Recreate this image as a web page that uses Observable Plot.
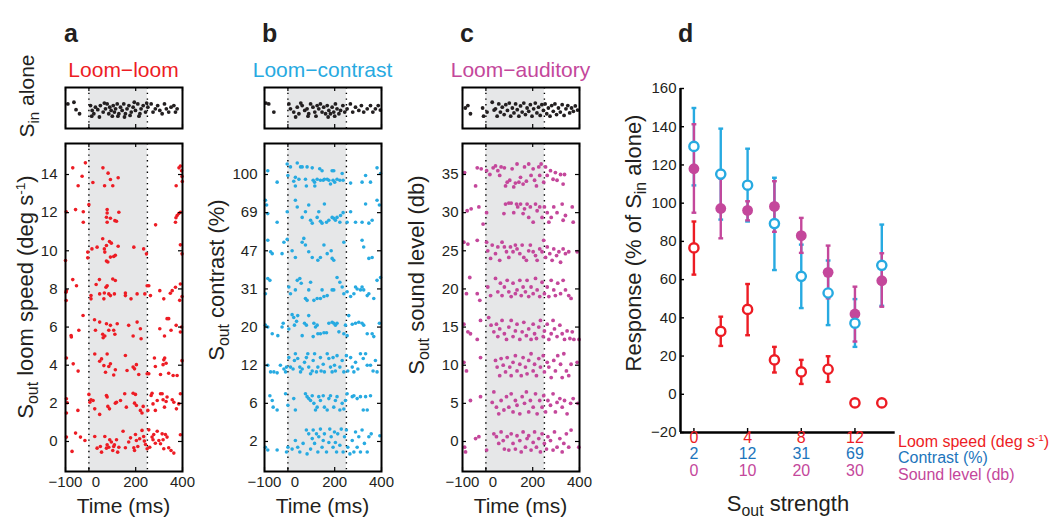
<!DOCTYPE html>
<html><head><meta charset="utf-8">
<script src="https://cdn.jsdelivr.net/npm/d3@7"></script>
<script src="https://cdn.jsdelivr.net/npm/@observablehq/plot@0.6"></script>
<style>
body{margin:0;background:#fff;}
#fig{position:relative;width:1050px;height:529px;overflow:hidden;background:#fff;font-family:"Liberation Sans",Arial,Helvetica,sans-serif;color:#231f20;}
#fig svg{position:absolute;left:0;top:0;}
.lbl{position:absolute;white-space:nowrap;line-height:1;}
.lbl sub{font-size:0.72em;vertical-align:-0.34em;line-height:0;}
.lbl sup{font-size:0.62em;vertical-align:0.6em;line-height:0;}
</style></head>
<body><div id="fig"></div>
<script>
// ---------------- DATA ----------------
const speedLabels = [0, 2, 4, 6, 8, 10, 12, 14];
const contrastLabels = [2, 6, 12, 20, 31, 47, 69, 100];
const soundLabels = [0, 5, 10, 15, 20, 25, 30, 35];
const timeDomain = [-100, 400];
const timeTicks = [-100, 0, 200, 400];
const stimWindow = [0, 250];

// spikes: [time ms, offset within row (in half-row units)]; rows bottom -> top
const topA = [[-90,.6],[-64,.64],[-55,.46],[-40,.36],[7,.56],[12,.3],[14,.44],[21,.36],[28,.52],[38,.46],[45,.28],[49,.56],[61,.4],[66,.62],[71,.48],[78,.6],[85,.36],[89,.52],[95,.44],[100,.3],[104,.56],[109,.4],[114,.48],[121,.6],[124,.3],[128,.36],[135,.52],[142,.44],[149,.6],[152,.28],[156,.36],[163,.48],[171,.56],[176,.32],[181,.4],[189,.52],[194,.64],[199,.44],[209,.6],[214,.3],[218,.36],[223,.48],[232,.56],[242,.4],[247,.62],[252,.52],[266,.6],[274,.4],[284,.48],[294,.56],[303,.44],[313,.36],[323,.6],[331,.48],[341,.4],[351,.52],[363,.56],[370,.4],[377,.48]];
const topB = [[-94,.62],[-82,.6],[-60,.4],[4,.6],[11,.48],[25,.4],[33,.28],[40,.52],[47,.36],[55,.62],[61,.56],[72,.44],[82,.48],[86,.3],[89,.36],[97,.6],[107,.52],[115,.4],[120,.3],[125,.56],[132,.48],[139,.6],[146,.4],[153,.52],[161,.36],[168,.56],[172,.28],[175,.44],[182,.36],[189,.52],[196,.4],[200,.3],[203,.6],[210,.48],[218,.36],[225,.44],[235,.56],[243,.4],[253,.48],[267,.6],[277,.4],[289,.52],[303,.44],[314,.56],[324,.4],[339,.48],[353,.56],[363,.4],[374,.48],[386,.56],[395,.45]];
const topC = [[-88,.5],[-77,.56],[-66,.36],[-14,.5],[-10,.3],[5,.4],[27,.64],[35,.45],[41,.48],[48,.3],[55,.6],[62,.4],[70,.52],[78,.34],[85,.58],[92,.44],[100,.62],[106,.3],[113,.5],[120,.38],[127,.6],[134,.46],[141,.3],[148,.55],[155,.4],[162,.62],[169,.34],[176,.5],[183,.42],[190,.58],[197,.3],[204,.48],[211,.62],[218,.38],[225,.52],[232,.32],[239,.58],[246,.44],[253,.6],[260,.36],[267,.5],[274,.3],[281,.56],[288,.42],[295,.6],[302,.34],[310,.5],[318,.4],[326,.58],[334,.32],[342,.48],[350,.56],[358,.38],[366,.5],[374,.42],[382,.55],[392,.45]];

const loomRows = [
 [[-96,.23],[-72,-.52],[-57,.44],[-36,.23],[-17,.05],[25,.26],[35,-.35],[49,-.26],[54,-.56],[68,.26],[75,-.35],[78,-.17],[85,-.3],[89,.09],[96,-.03],[102,-.47],[106,-.26],[109,-.17],[118,.09],[123,-.56],[128,-.3],[146,.54],[156,-.33],[170,-.03],[178,.19],[192,-.33],[195,-.47],[199,.37],[203,.05],[209,-.26],[217,.14],[227,.58],[234,.26],[237,.02],[242,-.16],[249,-.38],[256,.61],[260,-.3],[270,.23],[274,.09],[277,.37],[284,-.09],[292,.54],[299,.05],[306,-.12],[313,.4],[317,.09],[320,-.38],[327,.37],[334,.23],[341,-.33],[351,-.47],[363,-.61],[391,.35]],
 [[-96,.24],[-93,.03],[-96,-.51],[-47,-.37],[0,.47],[4,.06],[9,.19],[18,.15],[25,-.29],[46,-.58],[75,.41],[78,.33],[81,-.16],[88,-.29],[113,.01],[118,.06],[135,.15],[153,.5],[160,-.2],[189,.53],[199,.47],[195,.01],[203,-.11],[220,-.37],[227,-.51],[232,-.16],[252,-.37],[266,.41],[270,.53],[274,-.03],[284,-.37],[292,.15],[306,.5],[313,.5],[317,.19],[323,-.2],[330,.1],[334,.33],[356,.19],[363,.06],[374,-.29],[384,-.03],[391,.5]],
 [[-96,.38],[-67,.07],[-46,-.31],[25,.59],[46,.21],[54,.33],[64,-.02],[71,-.37],[78,.59],[85,-.07],[92,.07],[106,-.51],[113,-.24],[156,.51],[163,-.28],[189,-.1],[195,-.19],[203,.03],[213,-.49],[249,-.45],[256,-.45],[280,.38],[284,-.07],[306,-.49],[317,.03],[320,.28],[324,.38],[330,.1],[341,-.42],[360,-.54],[377,-.54],[398,.24]],
 [[-76,-.44],[-75,-.52],[-43,-.17],[-25,.61],[24,.38],[28,-.17],[46,.26],[59,-.38],[61,-.56],[68,-.47],[75,.17],[85,-.17],[92,.09],[106,-.17],[111,-.38],[121,.17],[170,.09],[189,-.47],[206,.26],[220,-.09],[223,-.61],[303,-.09],[323,-.47],[334,.44],[341,.44],[351,-.17],[373,.09],[391,-.26],[396,0]],
 [[-98,-.17],[-96,-.09],[-97,-.61],[-69,.49],[-53,.17],[9,-.35],[9,-.52],[31,.23],[45,.49],[46,-.26],[64,-.52],[66,-.21],[73,.09],[78,.17],[85,-.26],[92,-.35],[102,.52],[113,.44],[109,-.26],[156,-.21],[156,-.35],[180,-.52],[206,-.26],[239,-.26],[249,.17],[256,.17],[263,-.35],[303,-.09],[320,-.52],[348,-.23],[356,-.09],[370,.09],[391,.26],[388,-.6],[398,-.4]],
 [[-100,-.51],[-5,-.37],[-5,-.07],[13,.1],[35,.19],[59,.63],[66,.1],[68,-.07],[75,.28],[75,-.54],[81,-.59],[88,.49],[92,-.33],[96,.4],[106,-.3],[113,-.24],[125,.24],[192,.19],[234,.1],[246,-.16],[391,.31],[398,-.16]],
 [[-97,.05],[-57,.16],[-24,.05],[-24,-.5],[0,.42],[78,.16],[78,-.02],[75,-.24],[78,-.5],[92,-.29],[111,-.42],[118,-.45],[128,.02],[285,-.64],[370,-.5],[372,-.27],[377,-.15],[384,-.05],[391,.02]],
 [[-69,.35],[-46,-.59],[-29,-.09],[-15,.61],[17,-.42],[60,.35],[67,-.59],[82,.07],[92,-.26],[102,-.59],[125,-.17],[373,-.59],[385,.35],[391,.45],[396,.2],[398,-.1],[399,-.37]]
];

const contrastRows = [
 [[-96,-.3],[-86,-.45],[-46,-.45],[-6,-.55],[0,-.3],[18,-.4],[32,.05],[42,-.3],[51,-.55],[65,-.1],[79,.6],[82,-.65],[89,.4],[97,-.4],[104,.15],[108,.6],[114,-.1],[122,.4],[128,-.55],[132,.25],[139,.65],[146,-.3],[151,.05],[156,.4],[165,-.55],[175,-.05],[179,.65],[185,.25],[193,-.3],[199,.5],[203,-.05],[208,-.55],[213,.4],[222,-.2],[228,.65],[236,-.55],[242,.25],[250,.6],[256,-.3],[265,-.65],[275,.05],[282,-.55],[289,.5],[296,-.3],[303,.25],[310,-.55],[317,.6],[327,-.1],[339,-.55],[346,.25],[356,.4],[393,.3]],
 [[-77,.4],[-67,.15],[-63,-.2],[-46,-.35],[-10,.5],[0,-.1],[25,.25],[32,-.35],[75,.5],[82,.35],[89,.25],[97,.15],[104,.4],[111,0],[118,-.35],[125,-.2],[132,.35],[139,.15],[151,.4],[156,-.2],[168,-.35],[175,.25],[182,.4],[196,-.2],[203,.15],[210,.35],[222,-.35],[232,0],[239,-.3],[246,.15],[253,.5],[275,.35],[282,.4],[296,.25],[310,.35],[322,-.35],[332,.35],[339,-.35],[353,.4]],
 [[-86,0],[-74,-.35],[-60,-.35],[-46,-.4],[-32,0],[-17,-.2],[-10,-.35],[-6,-.1],[4,.4],[11,-.1],[22,-.2],[28,.25],[32,.6],[42,.35],[51,-.1],[54,-.35],[61,-.2],[71,.15],[79,.4],[85,.6],[89,-.1],[97,-.45],[104,-.3],[108,.25],[114,.6],[122,-.35],[128,-.1],[139,.4],[142,-.3],[151,.05],[156,-.35],[168,.6],[175,.35],[182,-.1],[189,-.35],[193,.4],[199,0],[203,-.3],[210,.5],[222,-.1],[232,.25],[239,-.35],[250,.5],[256,-.3],[268,.4],[275,-.1],[282,-.35],[289,.15],[299,-.2],[310,.6],[322,.35],[332,.6],[339,0],[353,0],[364,-.3],[374,.25],[381,-.35]],
 [[-96,.1],[-86,0],[-67,-.35],[-43,-.45],[-25,0],[-20,.2],[4,-.1],[18,.65],[25,.5],[28,.1],[37,.3],[42,.6],[61,-.45],[71,.2],[79,.1],[89,.6],[108,-.5],[111,.2],[118,0],[125,.1],[128,-.35],[139,-.35],[154,-.3],[165,-.3],[175,.2],[189,.25],[196,.2],[203,.1],[210,.2],[218,-.25],[239,-.35],[246,.1],[253,-.45],[260,.6],[275,.15],[289,.2],[303,.25],[317,.2],[324,.1],[339,-.35],[360,-.35],[367,-.5],[391,.2]],
 [[-96,-.25],[-86,.55],[-77,.45],[4,.1],[11,-.25],[32,-.05],[40,.45],[51,.55],[57,.3],[75,-.5],[82,-.6],[89,-.05],[97,.35],[111,-.6],[125,-.5],[139,-.5],[146,-.05],[154,-.4],[168,-.35],[189,-.05],[196,-.05],[210,.6],[222,.35],[232,.1],[239,-.25],[253,-.15],[268,-.4],[282,-.25],[289,.1],[296,0],[310,-.05],[317,.1],[324,-.05],[339,-.35],[346,-.25],[367,-.5],[381,.45],[396,.6]],
 [[-86,.55],[-74,-.05],[-67,-.15],[-25,-.15],[-17,.45],[-3,.6],[18,0],[32,-.35],[61,.45],[68,.65],[75,.3],[89,-.05],[104,-.35],[128,-.5],[139,-.35],[154,.3],[168,-.15],[185,0],[189,-.4],[196,-.5],[239,.45],[317,.55],[324,.2],[346,-.4],[360,-.35]],
 [[-96,.65],[-91,.4],[-86,-.05],[-46,-.5],[-3,.05],[32,.65],[40,.3],[61,-.25],[75,.05],[89,.4],[97,-.4],[104,-.55],[125,-.25],[132,.05],[139,-.45],[146,-.55],[156,.45],[165,-.5],[175,-.4],[189,-.25],[196,-.3],[203,-.4],[210,-.25],[222,-.5],[225,-.15],[236,0],[253,-.5],[268,.05],[289,-.5],[317,-.5],[332,.45],[346,-.55],[360,-.4],[381,.65],[391,.4]],
 [[-86,.2],[-46,-.4],[-3,.55],[0,-.05],[11,.4],[25,-.35],[32,-.15],[32,-.6],[40,.6],[47,-.25],[54,.4],[61,.4],[75,-.25],[79,-.6],[82,.4],[104,.35],[108,-.3],[114,-.4],[115,-.6],[125,-.25],[136,.3],[139,-.3],[146,.2],[151,-.3],[156,-.25],[168,-.25],[175,-.3],[182,-.5],[189,.2],[193,-.3],[196,.2],[200,-.4],[210,-.25],[222,-.3],[232,.05],[236,-.3],[268,-.45],[317,-.4],[332,-.05],[353,-.4],[381,.35],[396,.05]]
];

const soundRows = [
 [[-91,-.3],[-87,-.55],[-44,.15],[-30,.25],[3,-.45],[34,.4],[45,.25],[55,-.1],[65,.5],[74,.05],[79,-.4],[91,.25],[98,-.45],[108,.4],[116,-.1],[126,-.4],[133,.3],[145,.05],[151,-.55],[159,.5],[169,-.3],[176,.15],[183,.3],[193,-.45],[202,-.05],[208,.5],[216,-.3],[226,.15],[233,-.55],[240,.4],[250,-.1],[259,-.4],[265,.25],[276,.05],[287,-.45],[293,.5],[304,-.3],[316,.15],[326,-.55],[333,-.1],[344,.4],[354,-.3],[364,.6],[397,-.3]],
 [[-66,.15],[-23,.35],[27,.05],[34,.6],[45,-.2],[55,-.55],[65,.15],[77,-.35],[88,.35],[98,-.2],[108,.5],[116,-.45],[126,.15],[133,-.1],[145,-.55],[155,.35],[165,0],[173,.6],[183,-.45],[190,.15],[202,-.2],[212,.5],[219,-.55],[230,.15],[240,-.2],[247,.4],[255,-.45],[265,.15],[276,-.1],[287,.5],[297,-.45],[304,.05],[316,.25],[326,-.2],[336,.15],[347,-.55],[362,0],[373,.25],[393,0]],
 [[-94,.15],[-83,-.3],[-23,.4],[41,.25],[48,-.1],[59,-.55],[65,.35],[74,0],[84,-.35],[91,.4],[102,-.1],[108,-.55],[116,.15],[126,.5],[133,-.3],[145,.05],[151,-.55],[159,.4],[169,-.1],[176,-.45],[183,.25],[193,.6],[202,-.3],[208,.05],[216,-.55],[226,.35],[233,-.1],[245,.5],[250,-.35],[262,.15],[269,-.1],[279,-.65],[290,.25],[297,-.3],[307,.5],[319,.05],[326,-.65],[333,.6],[344,-.3],[354,-.55],[364,.05],[390,.15]],
 [[-94,.15],[-77,-.25],[-66,-.35],[-37,-.65],[-23,.35],[12,.5],[22,.1],[34,-.25],[45,.15],[51,-.5],[59,-.1],[69,.35],[79,-.35],[88,-.65],[98,0],[108,.35],[116,-.5],[126,-.2],[133,.15],[145,-.65],[155,-.25],[162,.25],[173,-.45],[183,-.1],[193,-.65],[202,.15],[208,-.35],[216,-.6],[226,0],[233,.35],[245,-.5],[250,-.2],[262,.15],[269,-.65],[279,-.35],[287,.35],[293,-.1],[304,-.5],[316,.1],[326,-.35],[336,-.65],[347,-.2],[359,-.6],[369,-.25],[376,-.65],[398,-.65]],
 [[-83,-.25],[-69,.6],[-37,-.25],[-26,-.6],[8,.1],[20,-.35],[41,.55],[51,-.15],[62,.3],[69,-.35],[79,.1],[91,.45],[98,-.15],[108,-.4],[116,.3],[126,-.25],[133,-.05],[145,.45],[151,-.35],[159,.1],[169,-.15],[176,.45],[183,-.4],[193,.1],[202,-.25],[212,.55],[219,-.05],[230,-.4],[240,.35],[250,-.25],[262,.1],[269,-.4],[279,.45],[290,-.05],[297,-.35],[307,.3],[319,-.25],[330,.45],[340,-.05],[354,-.35],[364,-.5]],
 [[-94,.45],[-77,.35],[-37,.55],[3,.45],[8,0],[20,-.4],[27,.3],[41,-.15],[51,.2],[59,-.5],[69,.45],[79,.2],[88,-.05],[98,-.35],[105,.2],[116,-.05],[126,.3],[133,.1],[145,-.15],[155,.3],[162,-.35],[173,-.5],[183,0],[190,.3],[202,-.05],[212,-.25],[219,-.5],[230,.1],[240,-.05],[247,.55],[255,-.35],[262,.2],[273,-.15],[283,-.5],[290,.1],[302,-.25],[312,-.05],[319,-.6],[330,.1],[340,-.15],[354,-.05],[390,-.05]],
 [[-80,.1],[-63,.2],[-30,.3],[-12,-.6],[3,0],[77,-.05],[84,.45],[98,.5],[108,.5],[119,0],[131,.45],[136,.3],[148,.45],[159,-.05],[165,.2],[176,.45],[183,-.25],[190,.3],[202,-.5],[212,.45],[219,.1],[230,.3],[240,-.25],[250,.3],[262,0],[269,-.5],[279,-.25],[290,.3],[304,0],[326,.45],[330,-.4],[340,-.15],[369,.3],[373,-.5]],
 [[-91,.1],[-44,-.6],[-37,.35],[-20,.3],[3,.2],[17,0],[31,.35],[41,.45],[51,.2],[59,-.05],[65,.4],[79,.35],[84,-.6],[91,-.4],[102,-.3],[112,.3],[119,-.65],[126,-.45],[133,.55],[141,-.4],[148,-.15],[159,-.5],[165,.4],[173,-.35],[183,.55],[193,-.05],[202,.3],[208,-.3],[216,-.6],[226,.4],[230,-.05],[236,.55],[247,-.4],[255,.4],[262,-.05],[276,.2],[287,-.25],[297,.1],[304,-.3],[319,0],[330,-.5],[336,0]]
];

// Panel d
const dX = [0, 2, 4, 6, 8, 10, 12, 14];
const loomMean = [76.6, 32.9, 44.4, 18, 11.7, 13.1, -4.5, -4.5];
const loomLo   = [62.6, 25.3, 30.9, 11.4, 5.4, 6.5, null, null];
const loomHi   = [90.4, 40.6, 57.7, 24.8, 18, 19.9, null, null];
const contrastMean = [129.7, 115.2, 109.4, 89.3, 61.7, 53, 37.2, 67.5];
const contrastLo   = [109.3, 91.4, 90.4, 65, 45.1, 36.2, 24.8, 46.3];
const contrastHi   = [149.8, 139, 128.5, 113.3, 78.3, 70, 49.8, 88.8];
const audMean = [118, 97.2, 96.2, 98.3, 83, 63.8, 42, 59.4];
const audLo   = [95, 81.6, 91, 85, 74, 50.2, 27.6, 45.8];
const audHi   = [141.3, 112.8, 101, 111.5, 92.3, 77.8, 56.3, 73.8];
const dXTicks = [0, 4, 8, 12];
const dSpeedTickLabels = ["0", "4", "8", "12"];
const dContrastTickLabels = ["2", "12", "31", "69"];
const dSoundTickLabels = ["0", "10", "20", "30"];
const dYTicks = [-20, 0, 20, 40, 60, 80, 100, 120, 140, 160];
const dXDomain = [-1, 15];
const dYDomain = [-20, 160];

// ---------------- STYLE ----------------
const W = 1050, H = 529;
const FONT = "'Liberation Sans', Arial, Helvetica, sans-serif";
const RED = "#ed1c24", CYAN = "#27aae1", MAG = "#c4479b", BLUE = "#1c75bc", INK = "#231f20", SHADE = "#e6e7e8";
const fig = document.getElementById("fig");
const baseStyle = () => ({background: "transparent", overflow: "visible", fontFamily: FONT, fontSize: "15px", color: INK});
const fmt = d => d < 0 ? "\u2212" + Math.abs(d) : String(d);

function rasterTop(box, spikes) {
  const [L, R] = box, T = 87, B = 128;
  return Plot.plot({
    width: W, height: H, marginLeft: L, marginRight: W - R, marginTop: T, marginBottom: H - B,
    style: baseStyle(),
    x: {domain: timeDomain, axis: null, label: null},
    y: {domain: [0, 1], axis: null, label: null},
    marks: [
      Plot.rect([stimWindow], {x1: d => d[0], x2: d => d[1], fill: SHADE}),
      Plot.ruleX(stimWindow, {stroke: "#000", strokeWidth: 1.4, strokeDasharray: "1.4,4.3"}),
      Plot.dot(spikes, {x: d => d[0], y: d => d[1], r: 1.9, fill: INK}),
      Plot.ruleX(timeTicks, {stroke: "#000", strokeWidth: 1.2, insetTop: (B - T) - 4}),
      Plot.ruleX(timeTicks, {stroke: "#000", strokeWidth: 1.2, insetBottom: (B - T) - 4}),
      Plot.frame({stroke: "#000", strokeWidth: 2})
    ]
  });
}

function rasterMain(box, rows, labels, color, r, pad) {
  const [L, R] = box, T = 143, B = 471;
  const pts = rows.flatMap((row, i) => row.map(([t, o]) => ({t, y: i + o / 2})));
  const idx = labels.map((_, i) => i);
  return Plot.plot({
    width: W, height: H, marginLeft: L, marginRight: W - R, marginTop: T, marginBottom: H - B,
    style: baseStyle(),
    x: {domain: timeDomain, axis: null, label: null},
    y: {domain: [-0.787, 7.813], label: null},
    marks: [
      Plot.rect([stimWindow], {x1: d => d[0], x2: d => d[1], fill: SHADE}),
      Plot.ruleX(stimWindow, {stroke: "#000", strokeWidth: 1.4, strokeDasharray: "1.4,4.3"}),
      Plot.dot(pts, {x: "t", y: "y", r, fill: color}),
      Plot.ruleX(timeTicks, {stroke: "#000", strokeWidth: 1.2, insetTop: (B - T) - 4}),
      Plot.ruleX(timeTicks, {stroke: "#000", strokeWidth: 1.2, insetBottom: (B - T) - 4}),
      Plot.ruleY(idx, {stroke: "#000", strokeWidth: 1.2, insetRight: (R - L) - 4}),
      Plot.ruleY(idx, {stroke: "#000", strokeWidth: 1.2, insetLeft: (R - L) - 4}),
      Plot.frame({stroke: "#000", strokeWidth: 2}),
      Plot.axisY(idx, {tickSize: 0, tickPadding: pad, tickFormat: i => String(labels[i]), fontSize: 15, fill: INK}),
      Plot.text(timeTicks.filter(d => d !== 0), {x: d => d, frameAnchor: "bottom", dy: 15.7, text: fmt, fontSize: 15, fill: INK}),
      Plot.text(timeTicks.filter(d => d === 0), {x: d => d, frameAnchor: "bottom", dy: 15.7, dx: 7, text: fmt, fontSize: 15, fill: INK})
    ]
  });
}

const cap = {draw(ctx, size) { const w = Math.sqrt(size / Math.PI); ctx.moveTo(-w, 0); ctx.lineTo(w, 0); }};
function series(mean, lo, hi) { return dX.map((x, i) => ({x, m: mean[i], lo: lo[i], hi: hi[i]})); }

function panelD() {
  const L = 680, R = 894.7, T = 88, B = 432;
  const red = series(loomMean, loomLo, loomHi);
  const cya = series(contrastMean, contrastLo, contrastHi);
  const mag = series(audMean, audLo, audHi);
  const redE = red.filter(d => d.lo != null);
  const bars = (data, color) => [
    Plot.ruleX(data, {x: "x", y1: "lo", y2: "hi", stroke: color, strokeWidth: 2.4}),
    Plot.dot(data, {x: "x", y: "lo", symbol: cap, r: 2.4, stroke: color, strokeWidth: 2.4, fill: "none"}),
    Plot.dot(data, {x: "x", y: "hi", symbol: cap, r: 2.4, stroke: color, strokeWidth: 2.4, fill: "none"})
  ];
  return Plot.plot({
    width: W, height: H, marginLeft: L, marginRight: W - R, marginTop: T, marginBottom: H - B,
    style: baseStyle(),
    x: {domain: dXDomain, axis: null, label: null},
    y: {domain: dYDomain, label: null},
    marks: [
      Plot.ruleY(dYTicks, {stroke: "#000", strokeWidth: 1.4, insetRight: (R - L) - 4}),
      Plot.ruleX(dXTicks, {stroke: "#000", strokeWidth: 1.4, insetTop: (B - T) - 4}),
      Plot.ruleY([dYDomain[0]], {stroke: "#000", strokeWidth: 2.5}),
      Plot.ruleX([dXDomain[0]], {stroke: "#000", strokeWidth: 2.5}),
      Plot.axisY(dYTicks, {tickSize: 0, tickPadding: 4, fontSize: 15, fill: INK}),
      ...bars(cya, CYAN),
      ...bars(mag, MAG),
      Plot.dot(mag, {x: "x", y: "m", r: 5.4, fill: MAG}),
      Plot.dot(cya, {x: "x", y: "m", r: 4.6, fill: "white", stroke: CYAN, strokeWidth: 2.4}),
      ...bars(redE, RED),
      Plot.dot(red, {x: "x", y: "m", r: 4.6, fill: "white", stroke: RED, strokeWidth: 2.4}),
      Plot.text(dXTicks, {x: d => d, frameAnchor: "bottom", dy: 10.5, text: (d, i) => dSpeedTickLabels[i], fill: RED, fontSize: 16}),
      Plot.text(dXTicks, {x: d => d, frameAnchor: "bottom", dy: 26.5, text: (d, i) => dContrastTickLabels[i], fill: BLUE, fontSize: 16}),
      Plot.text(dXTicks, {x: d => d, frameAnchor: "bottom", dy: 43, text: (d, i) => dSoundTickLabels[i], fill: MAG, fontSize: 16})
    ]
  });
}

const boxA = [65, 182], boxB = [264, 381], boxC = [462, 579];
fig.append(rasterTop(boxA, topA));
fig.append(rasterMain(boxA, loomRows, speedLabels, RED, 1.8, 8));
fig.append(rasterTop(boxB, topB));
fig.append(rasterMain(boxB, contrastRows, contrastLabels, CYAN, 1.8, 7));
fig.append(rasterTop(boxC, topC));
fig.append(rasterMain(boxC, soundRows, soundLabels, MAG, 1.9, 4));
fig.append(panelD());

// ---------------- TEXT ----------------
function label(html, o) {
  const el = document.createElement("div");
  el.className = "lbl";
  el.innerHTML = html;
  el.style.fontSize = o.size + "px";
  el.style.color = o.color || INK;
  if (o.bold) el.style.fontWeight = "bold";
  if (o.rotate) {
    el.style.left = o.x + "px"; el.style.top = o.y + "px";
    el.style.transform = "translate(-50%,-50%) rotate(-90deg)";
  } else {
    el.style.left = o.x + "px";
    el.style.top = (o.y - 0.8465 * o.size) + "px";
    if (o.anchor === "middle") el.style.transform = "translateX(-50%)";
  }
  fig.append(el);
}
label("a", {x: 64, y: 42, size: 25, bold: true});
label("b", {x: 262, y: 42, size: 25, bold: true});
label("c", {x: 460, y: 42, size: 25, bold: true});
label("d", {x: 678, y: 42, size: 25, bold: true});
label("Loom\u2212loom", {x: 123.5, y: 77, size: 21, color: RED, anchor: "middle"});
label("Loom\u2212contrast", {x: 322.5, y: 77, size: 21, color: CYAN, anchor: "middle"});
label("Loom\u2212auditory", {x: 520.5, y: 77, size: 21, color: MAG, anchor: "middle"});
label("Time (ms)", {x: 123.5, y: 513, size: 21, anchor: "middle"});
label("Time (ms)", {x: 322.5, y: 513, size: 21, anchor: "middle"});
label("Time (ms)", {x: 520.5, y: 513, size: 21, anchor: "middle"});
label("S<sub>in</sub> alone", {x: 25.7, y: 96, size: 21, rotate: true});
label("S<sub>out</sub> loom speed (deg s<sup>-1</sup>)", {x: 26.4, y: 297, size: 22, rotate: true});
label("S<sub>out</sub> contrast (%)", {x: 217.4, y: 280, size: 22, rotate: true});
label("S<sub>out</sub> sound level (db)", {x: 417.4, y: 275, size: 22, rotate: true});
label("Response (% of S<sub>in</sub> alone)", {x: 634, y: 243, size: 22, rotate: true});
label("S<sub>out</sub> strength", {x: 788, y: 512, size: 22, anchor: "middle"});
label("Loom speed (deg s<sup>-1</sup>)", {x: 898, y: 447.7, size: 16, color: RED});
label("Contrast (%)", {x: 898, y: 463.7, size: 16, color: BLUE});
label("Sound level (db)", {x: 898, y: 480.7, size: 16, color: MAG});
</script></body></html>
